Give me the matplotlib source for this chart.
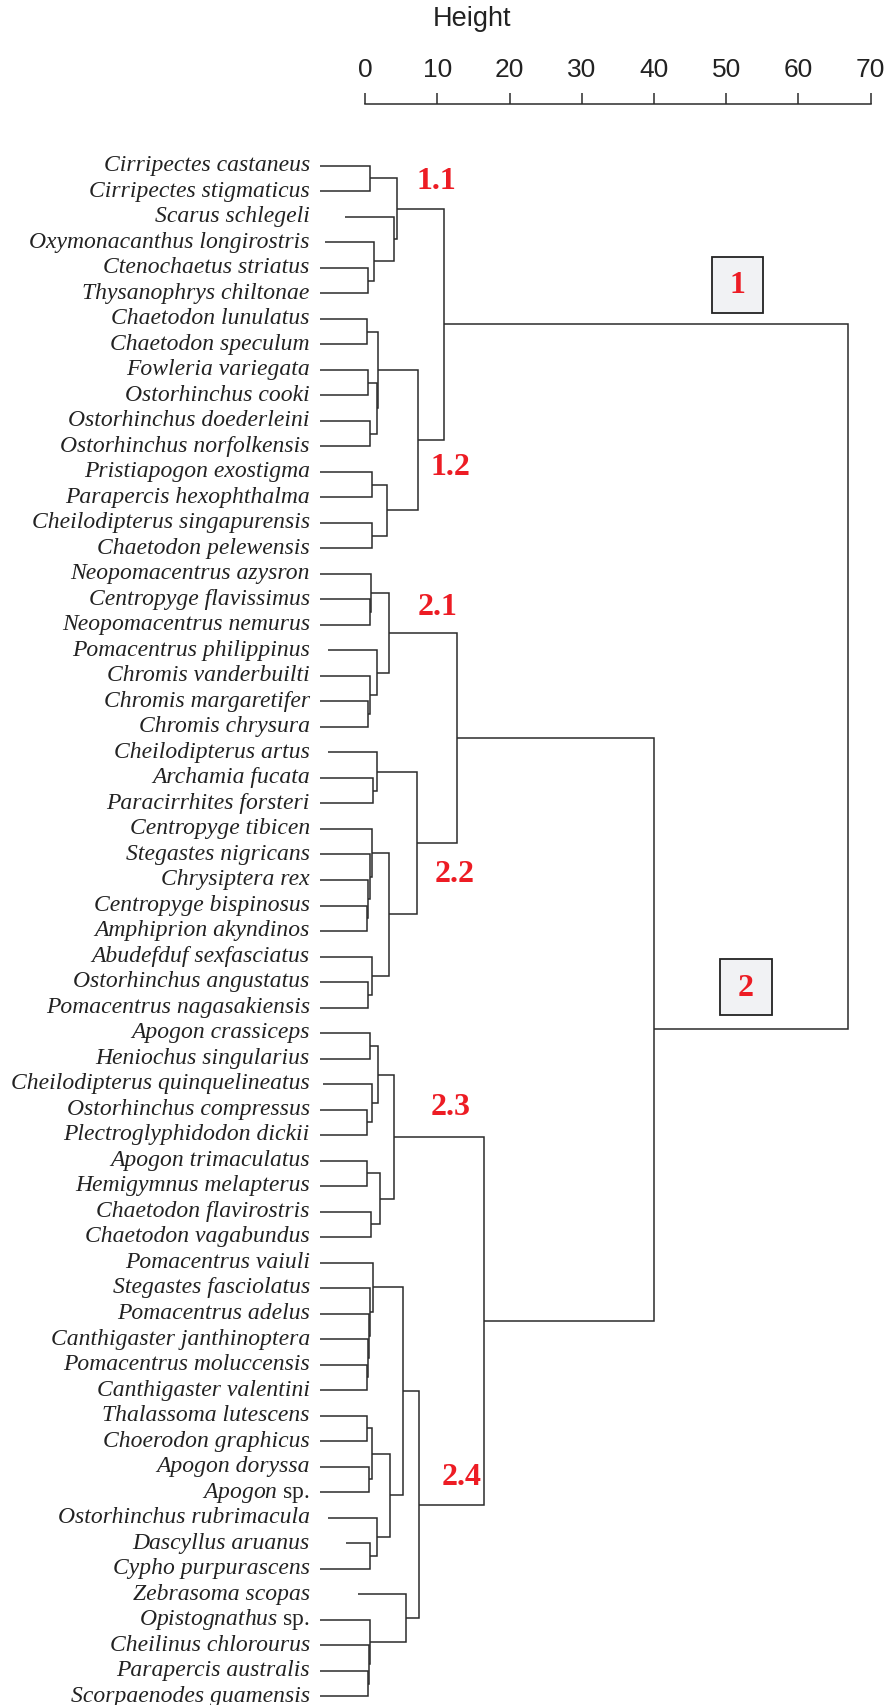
import matplotlib.pyplot as plt
from matplotlib.patches import Rectangle

plt.rcParams['font.family'] = ['Liberation Sans', 'DejaVu Sans']
plt.rcParams['mathtext.fontset'] = 'custom'
plt.rcParams['mathtext.it'] = 'Liberation Serif:italic'
plt.rcParams['mathtext.rm'] = 'Liberation Serif'

# Leaves, top to bottom.
species = [
    'Cirripectes castaneus', 'Cirripectes stigmaticus', 'Scarus schlegeli',
    'Oxymonacanthus longirostris', 'Ctenochaetus striatus', 'Thysanophrys chiltonae',
    'Chaetodon lunulatus', 'Chaetodon speculum', 'Fowleria variegata',
    'Ostorhinchus cooki', 'Ostorhinchus doederleini', 'Ostorhinchus norfolkensis',
    'Pristiapogon exostigma', 'Parapercis hexophthalma', 'Cheilodipterus singapurensis',
    'Chaetodon pelewensis',
    'Neopomacentrus azysron', 'Centropyge flavissimus', 'Neopomacentrus nemurus',
    'Pomacentrus philippinus', 'Chromis vanderbuilti', 'Chromis margaretifer',
    'Chromis chrysura',
    'Cheilodipterus artus', 'Archamia fucata', 'Paracirrhites forsteri',
    'Centropyge tibicen', 'Stegastes nigricans', 'Chrysiptera rex',
    'Centropyge bispinosus', 'Amphiprion akyndinos', 'Abudefduf sexfasciatus',
    'Ostorhinchus angustatus', 'Pomacentrus nagasakiensis',
    'Apogon crassiceps', 'Heniochus singularius', 'Cheilodipterus quinquelineatus',
    'Ostorhinchus compressus', 'Plectroglyphidodon dickii', 'Apogon trimaculatus',
    'Hemigymnus melapterus', 'Chaetodon flavirostris', 'Chaetodon vagabundus',
    'Pomacentrus vaiuli', 'Stegastes fasciolatus', 'Pomacentrus adelus',
    'Canthigaster janthinoptera', 'Pomacentrus moluccensis', 'Canthigaster valentini',
    'Thalassoma lutescens', 'Choerodon graphicus', 'Apogon doryssa', 'Apogon sp.',
    'Ostorhinchus rubrimacula', 'Dascyllus aruanus', 'Cypho purpurascens',
    'Zebrasoma scopas', 'Opistognathus sp.', 'Cheilinus chlorourus',
    'Parapercis australis', 'Scorpaenodes guamensis',
]

# Merges as [height, left, right]; an int is a leaf index.
cl_1_1 = [4.42, [0.69, 0, 1], [4.06, 2, [1.22, 3, [0.42, 4, 5]]]]
cl_1_2 = [7.35, [1.84, [0.24, 6, 7], [1.66, [0.42, 8, 9], [0.69, 10, 11]]],
          [3.0, [0.95, 12, 13], [0.95, 14, 15]]]
cl_2_1 = [3.35, [0.86, 16, [0.69, 17, 18]], [1.66, 19, [0.69, 20, [0.42, 21, 22]]]]
cl_2_2 = [7.17, [1.58, 23, [1.13, 24, 25]],
          [3.26, [0.95, 26, [0.69, 27, [0.42, 28, [0.2, 29, 30]]]],
           [0.95, 31, [0.42, 32, 33]]]]
cl_2_3 = [4.06, [1.84, [0.69, 34, 35], [0.95, 36, [0.2, 37, 38]]],
          [2.11, [0.2, 39, 40], [0.86, 41, 42]]]
cl_2_4 = [7.52, [5.22, [1.13, 43, [0.69, 44, [0.51, 45, [0.33, 46, [0.2, 47, 48]]]]],
                 [3.44, [0.95, [0.2, 49, 50], [0.51, 51, 52]], [1.66, 53, [0.69, 54, 55]]]],
          [5.66, 56, [0.69, 57, [0.55, 58, [0.42, 59, 60]]]]]

group_1 = [10.9, cl_1_1, cl_1_2]
group_2 = [39.94, [12.76, cl_2_1, cl_2_2], [16.4, cl_2_3, cl_2_4]]
tree = [66.85, group_1, group_2]

height_ticks = [0, 10, 20, 30, 40, 50, 60, 70]

# Style.
LINE = '#2b2b2b'
RED = '#ed1c24'
LEAF_START = -6.24
leaf_start = {2: -2.78, 3: -5.53, 19: -5.17, 23: -5.17, 36: -5.8, 53: -5.17,
              54: -2.6, 56: -1.0}

fig = plt.figure(figsize=(8.88, 17.06), dpi=100)
ax = fig.add_axes([0, 0, 1, 1])
ax.set_xlim(-50.57, 72.4)
ax.set_ylim(60.34, -6.535)
ax.axis('off')


def draw(node):
    if isinstance(node, int):
        return node, leaf_start.get(node, LEAF_START)
    h, a, b = node
    ya, ha = draw(a)
    yb, hb = draw(b)
    ax.plot([ha, h, h, hb], [ya, ya, yb, yb], color=LINE, lw=1.1,
            solid_joinstyle='miter', solid_capstyle='butt')
    return (ya + yb) / 2, h


draw(tree)

# Leaf labels.
for i, name in enumerate(species):
    if name.endswith(' sp.'):
        txt = r'$\mathit{%s}$ sp.' % name[:-4]
        style = 'normal'
    else:
        txt = name
        style = 'italic'
    ax.text(-7.66, i + 0.17, txt, ha='right', va='baseline', fontsize=17,
            family='Liberation Serif', style=style, color='#222222')

# Cluster labels.
sub_labels = [('1.1', 9.92, 0.58), ('1.2', 11.79, 11.8), ('2.1', 10.01, 17.28),
              ('2.2', 12.32, 27.76), ('2.3', 11.79, 36.88), ('2.4', 13.3, 51.4)]
for lab, x, y in sub_labels:
    ax.text(x, y, lab, ha='center', va='center', fontsize=23, color=RED,
            family='Liberation Serif', weight='bold')

for lab, x, y in [('1', 51.57, 4.67), ('2', 52.72, 32.2)]:
    ax.add_patch(Rectangle((x - 3.58, y - 1.1), 7.16, 2.2, fc='#f1f2f4',
                           ec='#222222', lw=1.3, zorder=3))
    ax.text(x, y, lab, ha='center', va='center', fontsize=23, color=RED,
            family='Liberation Serif', weight='bold', zorder=4)

# Height scale at the top.
axh = fig.add_axes([0, 1 - 106 / 1706, 1, 0.0005])
axh.set_xlim(ax.get_xlim())
axh.patch.set_visible(False)
for s in ['left', 'right', 'bottom']:
    axh.spines[s].set_visible(False)
axh.spines['top'].set_bounds(0, 70)
axh.spines['top'].set_color(LINE)
axh.spines['top'].set_linewidth(1.1)
axh.xaxis.tick_top()
axh.set_xticks(height_ticks)
axh.set_yticks([])
axh.tick_params(axis='x', direction='out', length=8, width=1.1, color=LINE,
                pad=9, labelsize=19, labelcolor='#222222')
ax.text(14.86, -5.5, 'Height', ha='center', va='baseline', fontsize=19.5,
        color='#222222')

fig.savefig('out.png', dpi=100)
